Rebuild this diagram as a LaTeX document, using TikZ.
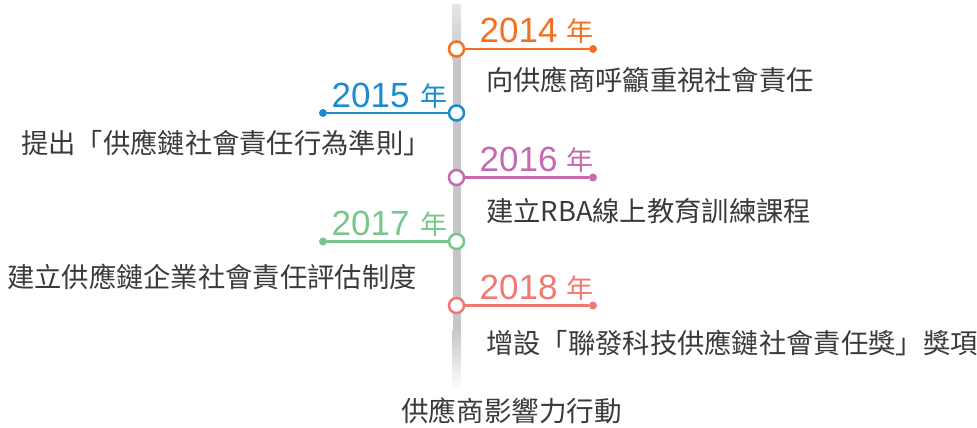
\documentclass[tikz,border=0pt]{standalone}
\usepackage{fontspec}
\setmainfont{Liberation Sans}
\newfontfamily\cjk{Noto Sans CJK TC}
\definecolor{cA}{HTML}{F37021}
\definecolor{cB}{HTML}{1A8CCF}
\definecolor{cC}{HTML}{C56AAE}
\definecolor{cD}{HTML}{78C68B}
\definecolor{cE}{HTML}{F07971}
\definecolor{txt}{HTML}{3A3A3A}
\definecolor{bar}{HTML}{C6C6CA}
\begin{document}
\begin{tikzpicture}[x=1pt,y=-1pt,
  ring/.style={circle,draw=#1,fill=white,line width=2.5pt,minimum size=15pt,inner sep=0pt},
  enddot/.style={circle,fill=#1,minimum size=8pt,inner sep=0pt},
  link/.style={draw=#1,line width=2.5pt},
  yeartext/.style={text=#1,inner sep=0pt,anchor=base west,font=\fontsize{35}{35}\selectfont},
  nian/.style={text=#1,inner sep=0pt,anchor=base west,font=\cjk\fontsize{27}{27}\selectfont},
  desc/.style={text=txt,inner sep=0pt,anchor=base west,font=\cjk\fontsize{27.3}{27.3}\selectfont}]
\useasboundingbox (0,0) rectangle (977,428);
% vertical bar
\shade[top color=bar!45,bottom color=bar] (452.5,5) rectangle (460.5,60);
\fill[bar] (452.5,59.5) rectangle (460.5,330.5);
\shade[top color=bar,bottom color=white] (452.5,330) rectangle (460.5,390);
% 2014
\node[ring=cA] (r1) at (456.5,49) {};
\node[enddot=cA] (e1) at (593,49) {};
\draw[link=cA] (r1) -- (e1);
\node[yeartext=cA] (y1) at (479.5,43) {2014};
\node[nian=cA] (n1) at (566,42) {年};
\node[desc] (t1) at (486,90) {向供應商呼籲重視社會責任};
% 2015
\node[ring=cB] (r2) at (456.5,113) {};
\node[enddot=cB] (e2) at (323,113) {};
\draw[link=cB] (r2) -- (e2);
\node[yeartext=cB] (y2) at (331.5,107) {2015};
\node[nian=cB] (n2) at (420,106) {年};
\node[desc] (t2) at (21,153) {提出「供應鏈社會責任行為準則」};
% 2016
\node[ring=cC] (r3) at (456.5,177.5) {};
\node[enddot=cC] (e3) at (593,177.5) {};
\draw[link=cC] (r3) -- (e3);
\node[yeartext=cC] (y3) at (479.5,171.5) {2016};
\node[nian=cC] (n3) at (566,170.5) {年};
\node[desc] (t3) at (486,221) {建立RBA線上教育訓練課程};
% 2017
\node[ring=cD] (r4) at (456.5,241.5) {};
\node[enddot=cD] (e4) at (323,241.5) {};
\draw[link=cD] (r4) -- (e4);
\node[yeartext=cD] (y4) at (331.5,235.5) {2017};
\node[nian=cD] (n4) at (420,234.5) {年};
\node[desc] (t4) at (7,287) {建立供應鏈企業社會責任評估制度};
% 2018
\node[ring=cE] (r5) at (456.5,305.5) {};
\node[enddot=cE] (e5) at (593,305.5) {};
\draw[link=cE] (r5) -- (e5);
\node[yeartext=cE] (y5) at (479.5,299.5) {2018};
\node[nian=cE] (n5) at (566,298.5) {年};
\node[desc] (t5) at (486,353) {增設「聯發科技供應鏈社會責任獎」獎項};
% title
\node[desc,font=\cjk\fontsize{27.6}{27.6}\selectfont] (title) at (401,421) {供應商影響力行動};
\end{tikzpicture}
\end{document}
